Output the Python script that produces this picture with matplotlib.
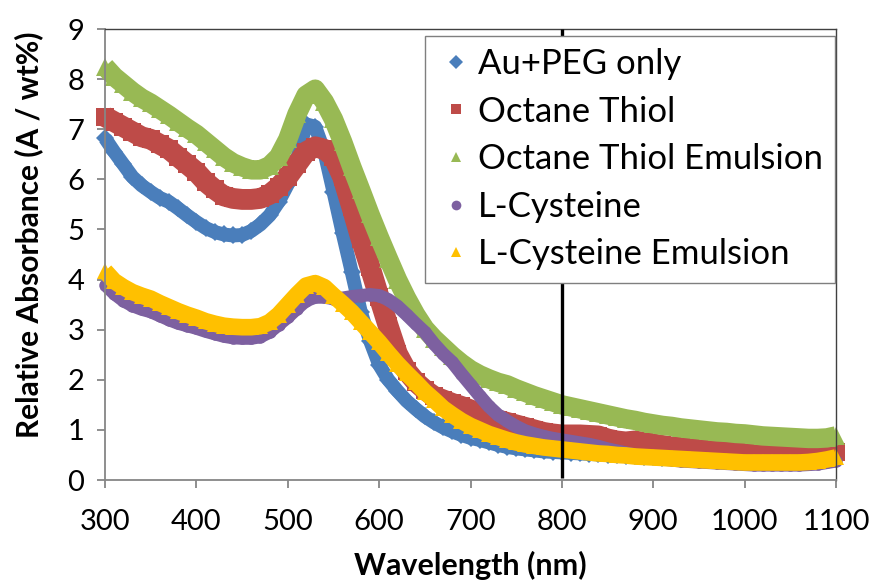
import matplotlib
matplotlib.use("Agg")
import matplotlib.pyplot as plt
from matplotlib.lines import Line2D
import numpy as np

plt.rcParams['font.family'] = ['Lato', 'DejaVu Sans']

# wavelength grid (nm), one value per 10 nm
wavelength = np.arange(300, 1101, 10)

au_peg = [6.82, 6.55, 6.30, 6.05, 5.88, 5.75, 5.63, 5.55, 5.42, 5.28,
          5.15, 5.03, 4.95, 4.90, 4.88, 4.89, 4.97, 5.10, 5.28, 5.55,
          5.90, 6.40, 7.10, 7.05, 6.55, 5.75, 4.93, 4.15, 3.35, 2.78,
          2.30, 2.00, 1.78, 1.58, 1.42, 1.27, 1.15, 1.05, 0.97, 0.90,
          0.84, 0.80, 0.75, 0.70, 0.66, 0.63, 0.61, 0.59, 0.57, 0.56,
          0.55, 0.54, 0.53, 0.52, 0.51, 0.50, 0.49, 0.48, 0.47, 0.46,
          0.45, 0.44, 0.43, 0.42, 0.41, 0.40, 0.39, 0.38, 0.38, 0.37,
          0.37, 0.36, 0.36, 0.36, 0.36, 0.37, 0.37, 0.38, 0.40, 0.43,
          0.48]

octane_thiol = [7.25, 7.15, 7.05, 6.95, 6.85, 6.80, 6.70, 6.60, 6.45, 6.30,
                6.15, 5.95, 5.80, 5.67, 5.62, 5.60, 5.60, 5.62, 5.70, 5.85,
                6.05, 6.30, 6.55, 6.65, 6.60, 6.45, 6.05, 5.45, 4.82, 4.25,
                3.65, 3.07, 2.52, 2.18, 1.96, 1.80, 1.67, 1.60, 1.53, 1.47,
                1.40, 1.33, 1.28, 1.20, 1.15, 1.10, 1.05, 1.00, 0.95, 0.92,
                0.90, 0.90, 0.90, 0.89, 0.88, 0.82, 0.78, 0.76, 0.78, 0.75,
                0.72, 0.69, 0.66, 0.65, 0.64, 0.64, 0.64, 0.63, 0.62, 0.61,
                0.60, 0.60, 0.59, 0.58, 0.57, 0.57, 0.56, 0.56, 0.56, 0.55,
                0.55]

octane_thiol_emulsion = [8.25, 8.05, 7.90, 7.75, 7.62, 7.52, 7.40, 7.28, 7.15, 7.02,
                         6.90, 6.75, 6.60, 6.45, 6.33, 6.25, 6.19, 6.19, 6.27, 6.45,
                         6.80, 7.30, 7.68, 7.80, 7.55, 7.20, 6.75, 6.25, 5.78, 5.30,
                         4.85, 4.42, 4.00, 3.63, 3.30, 3.02, 2.82, 2.65, 2.48, 2.33,
                         2.20, 2.10, 2.02, 1.95, 1.90, 1.82, 1.75, 1.68, 1.62, 1.56,
                         1.50, 1.46, 1.42, 1.38, 1.34, 1.30, 1.26, 1.22, 1.19, 1.15,
                         1.12, 1.09, 1.07, 1.04, 1.02, 1.00, 0.98, 0.96, 0.95, 0.93,
                         0.92, 0.90, 0.88, 0.87, 0.86, 0.85, 0.84, 0.83, 0.83, 0.84,
                         0.88]

l_cysteine = [3.90, 3.72, 3.58, 3.48, 3.41, 3.36, 3.28, 3.20, 3.13, 3.08,
              3.03, 2.97, 2.92, 2.87, 2.84, 2.83, 2.83, 2.86, 2.95, 3.10,
              3.25, 3.42, 3.58, 3.65, 3.65, 3.62, 3.63, 3.66, 3.68, 3.70,
              3.68, 3.60, 3.47, 3.30, 3.12, 2.95, 2.72, 2.52, 2.35, 2.12,
              1.90, 1.68, 1.47, 1.30, 1.18, 1.07, 0.98, 0.92, 0.87, 0.83,
              0.80, 0.77, 0.74, 0.71, 0.67, 0.62, 0.58, 0.54, 0.50, 0.47,
              0.44, 0.42, 0.40, 0.38, 0.37, 0.36, 0.35, 0.34, 0.33, 0.32,
              0.31, 0.30, 0.30, 0.30, 0.30, 0.30, 0.30, 0.31, 0.32, 0.35,
              0.38]

l_cysteine_emulsion = [4.17, 3.97, 3.85, 3.75, 3.68, 3.62, 3.53, 3.45, 3.37, 3.30,
                       3.24, 3.17, 3.12, 3.08, 3.06, 3.05, 3.05, 3.07, 3.15, 3.30,
                       3.50, 3.70, 3.88, 3.93, 3.85, 3.68, 3.52, 3.35, 3.15, 2.95,
                       2.75, 2.53, 2.32, 2.13, 1.95, 1.76, 1.60, 1.43, 1.30, 1.18,
                       1.08, 1.00, 0.92, 0.86, 0.80, 0.75, 0.71, 0.68, 0.65, 0.63,
                       0.61, 0.59, 0.57, 0.55, 0.53, 0.52, 0.50, 0.49, 0.47, 0.46,
                       0.45, 0.44, 0.43, 0.42, 0.41, 0.40, 0.39, 0.38, 0.37, 0.36,
                       0.35, 0.35, 0.35, 0.35, 0.35, 0.35, 0.35, 0.36, 0.38, 0.41,
                       0.45]

labels = ["Au+PEG only", "Octane Thiol", "Octane Thiol Emulsion",
          "L-Cysteine", "L-Cysteine Emulsion"]
series = [au_peg, octane_thiol, octane_thiol_emulsion, l_cysteine, l_cysteine_emulsion]
colors = ["#4A7EBB", "#BE4B48", "#98B954", "#7D60A0", "#FFC000"]
markers = ["D", "s", "^", "o", "^"]
msizes = [9, 13, 13, 9, 11]
lwidths = [10, 15, 14, 9.5, 12]

marker_line = 800

fig = plt.figure(figsize=(8.71, 5.81), dpi=100)
ax = fig.add_axes([0.1206, 0.1738, 0.8392, 0.7762])

for vals, lab, c, m, ms, lw in zip(series, labels, colors, markers, msizes, lwidths):
    ax.plot(wavelength, vals, color=c, lw=lw, solid_capstyle='butt',
            solid_joinstyle='round', zorder=2, clip_on=False)
    ax.plot(wavelength, vals, linestyle='none', marker=m, ms=ms, color=c,
            markeredgewidth=0, zorder=2, clip_on=False)

ax.vlines(marker_line, 0.05, 9, colors='black', lw=2.4, zorder=3)

ax.set_xlim(300, 1100)
ax.set_ylim(0, 9)
ax.set_xticks(np.arange(300, 1101, 100))
ax.set_yticks(np.arange(0, 10, 1))

for side in ['left', 'bottom']:
    ax.spines[side].set_color('#868686')
    ax.spines[side].set_linewidth(1.3)
for side in ['top', 'right']:
    ax.spines[side].set_color('#404040')
    ax.spines[side].set_linewidth(1.0)

ax.tick_params(axis='both', direction='out', length=6, width=1.3,
               color='#868686', labelsize=21)
ax.tick_params(axis='x', pad=15)
ax.tick_params(axis='y', pad=9)

fig.text(0.540, 0.026, "Wavelength (nm)", ha='center', va='center',
         fontsize=22, fontweight='bold')
fig.text(0.033, 0.596, "Relative Absorbance (A / wt%)", ha='center', va='center',
         rotation=90, fontsize=21.5, fontweight='bold')

handles = [Line2D([], [], linestyle='none', marker=m, color=c, ms=7,
                  markeredgewidth=0) for m, c in zip(markers, colors)]
leg = ax.legend(handles, labels, loc='upper right', bbox_to_anchor=(0.9985, 0.985),
                fontsize=25, frameon=True, fancybox=False, framealpha=1,
                edgecolor='#7f7f7f', handlelength=1.1, handletextpad=0.08,
                labelspacing=0.45, borderpad=0.35, borderaxespad=0)
leg.get_frame().set_linewidth(1.0)
leg.set_zorder(5)

fig.savefig("out.png", dpi=100)
